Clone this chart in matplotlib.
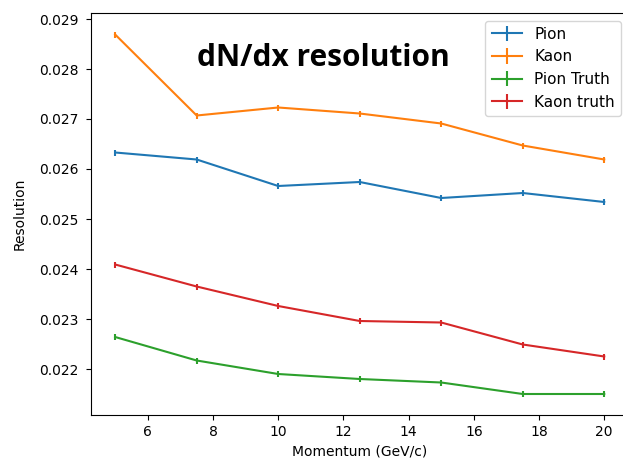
import matplotlib
matplotlib.use("Agg")
import matplotlib.pyplot as plt

momentum = [5, 7.5, 10, 12.5, 15, 17.5, 20]
pion = [0.02633, 0.02619, 0.02566, 0.02574, 0.02542, 0.02552, 0.02534]
kaon = [0.02869, 0.02707, 0.02723, 0.02711, 0.02691, 0.02647, 0.02619]
pion_truth = [0.02264, 0.02217, 0.02190, 0.02180, 0.02173, 0.02150, 0.02150]
kaon_truth = [0.02409, 0.02365, 0.02326, 0.02296, 0.02293, 0.02249, 0.02225]
err = 0.00006

series = [
    ("Pion", pion),
    ("Kaon", kaon),
    ("Pion Truth", pion_truth),
    ("Kaon truth", kaon_truth),
]

fig = plt.figure(figsize=(6.23, 4.62), dpi=100)
ax = fig.add_axes([90.7 / 623, 47 / 462, 538 / 623, 402 / 462])

for label, values in series:
    ax.errorbar(momentum, values, yerr=err, label=label)

ax.set_xlim(4.25, 20.75)
ax.set_ylim(0.02108, 0.02912)
ax.set_xlabel("Momentum (GeV/c)")
ax.set_ylabel("Resolution", labelpad=9)
ax.tick_params(axis="y", pad=5)
ax.legend(loc="upper right", fontsize=11)

# overlay title pasted onto the plot (display coords, y measured from bottom)
ax.text(323.5, 462 - 58, "dN/dx resolution", transform=None, fontsize=21.5,
        fontweight="bold", family="Open Sans", ha="center", va="center")

fig.savefig("out.png", dpi=100)
